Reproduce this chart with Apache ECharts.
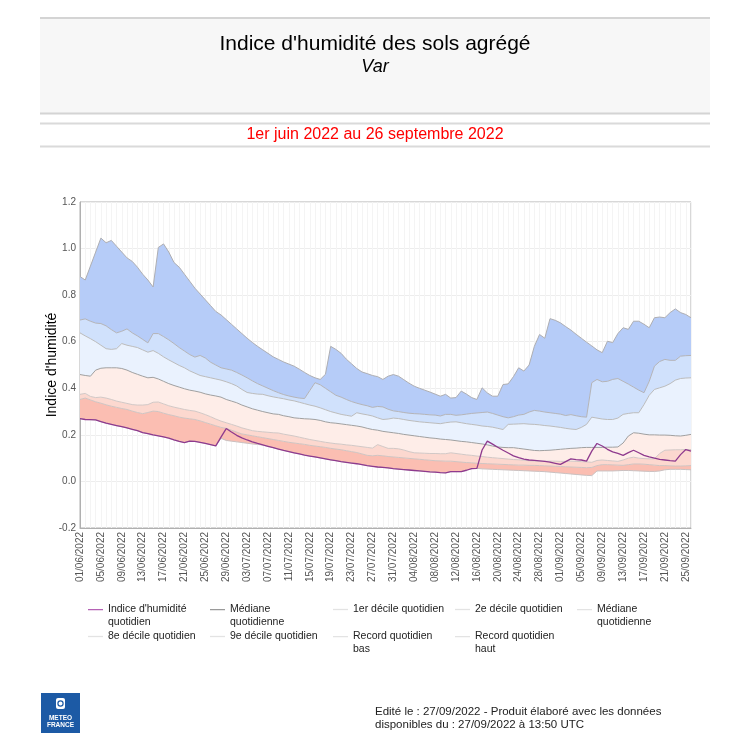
<!DOCTYPE html>
<html><head><meta charset="utf-8">
<script src="https://cdn.jsdelivr.net/npm/echarts/dist/echarts.min.js"></script>
<style>html,body{margin:0;padding:0;background:#fff}#c{width:750px;height:750px}</style>
</head><body><div id="c"></div>
<script>
const dates = [
"01/06/2022","02/06/2022","03/06/2022","04/06/2022","05/06/2022","06/06/2022","07/06/2022","08/06/2022","09/06/2022","10/06/2022",
"11/06/2022","12/06/2022","13/06/2022","14/06/2022","15/06/2022","16/06/2022","17/06/2022","18/06/2022","19/06/2022","20/06/2022",
"21/06/2022","22/06/2022","23/06/2022","24/06/2022","25/06/2022","26/06/2022","27/06/2022","28/06/2022","29/06/2022","30/06/2022",
"01/07/2022","02/07/2022","03/07/2022","04/07/2022","05/07/2022","06/07/2022","07/07/2022","08/07/2022","09/07/2022","10/07/2022",
"11/07/2022","12/07/2022","13/07/2022","14/07/2022","15/07/2022","16/07/2022","17/07/2022","18/07/2022","19/07/2022","20/07/2022",
"21/07/2022","22/07/2022","23/07/2022","24/07/2022","25/07/2022","26/07/2022","27/07/2022","28/07/2022","29/07/2022","30/07/2022",
"31/07/2022","01/08/2022","02/08/2022","03/08/2022","04/08/2022","05/08/2022","06/08/2022","07/08/2022","08/08/2022","09/08/2022",
"10/08/2022","11/08/2022","12/08/2022","13/08/2022","14/08/2022","15/08/2022","16/08/2022","17/08/2022","18/08/2022","19/08/2022",
"20/08/2022","21/08/2022","22/08/2022","23/08/2022","24/08/2022","25/08/2022","26/08/2022","27/08/2022","28/08/2022","29/08/2022",
"30/08/2022","31/08/2022","01/09/2022","02/09/2022","03/09/2022","04/09/2022","05/09/2022","06/09/2022","07/09/2022","08/09/2022",
"09/09/2022","10/09/2022","11/09/2022","12/09/2022","13/09/2022","14/09/2022","15/09/2022","16/09/2022","17/09/2022","18/09/2022",
"19/09/2022","20/09/2022","21/09/2022","22/09/2022","23/09/2022","24/09/2022","25/09/2022","26/09/2022"];

const indice = [
.270,.266,.265,.264,.257,.250,.245,.240,.235,.230,
.224,.218,.210,.205,.200,.196,.191,.186,.178,.172,
.167,.173,.172,.168,.163,.158,.153,.190,.227,.212,
.198,.187,.178,.170,.163,.157,.151,.145,.139,.133,
.128,.123,.118,.113,.109,.105,.101,.097,.093,.089,
.085,.082,.079,.076,.072,.068,.065,.062,.060,.058,
.055,.053,.051,.049,.047,.045,.043,.041,.040,.038,
.037,.042,.042,.042,.048,.055,.056,.135,.173,.160,
.147,.134,.122,.110,.102,.096,.092,.090,.088,.086,
.083,.078,.073,.085,.097,.094,.092,.087,.130,.163,
.152,.138,.127,.120,.112,.124,.134,.123,.112,.105,
.100,.095,.092,.089,.087,.115,.137,.130];

const recordBas = [
.270,.266,.265,.264,.257,.250,.245,.240,.235,.230,
.224,.218,.210,.205,.200,.196,.191,.186,.178,.172,
.167,.173,.172,.168,.163,.158,.153,.185,.176,.173,
.170,.167,.164,.161,.159,.156,.151,.145,.139,.133,
.128,.123,.118,.113,.109,.105,.101,.097,.093,.089,
.085,.082,.079,.076,.072,.068,.065,.062,.060,.058,
.055,.053,.051,.049,.047,.045,.043,.041,.040,.038,
.037,.042,.042,.042,.048,.055,.056,.054,.053,.052,
.051,.050,.049,.048,.047,.046,.045,.044,.043,.042,
.040,.038,.036,.034,.032,.030,.028,.026,.025,.045,
.045,.045,.045,.046,.047,.047,.046,.045,.044,.043,
.043,.045,.050,.052,.052,.052,.051,.050];

const decile1 = [
.352,.358,.350,.342,.336,.329,.323,.318,.313,.309,
.302,.296,.291,.296,.302,.300,.293,.287,.282,.276,
.272,.269,.266,.260,.253,.246,.239,.232,.228,.220,
.212,.204,.200,.196,.192,.188,.184,.180,.176,.172,
.168,.165,.162,.159,.155,.152,.149,.146,.142,.139,
.136,.132,.128,.124,.118,.112,.110,.112,.110,.107,
.105,.103,.101,.099,.097,.095,.093,.091,.089,.088,
.087,.087,.085,.083,.081,.080,.078,.077,.076,.075,
.074,.073,.072,.071,.070,.070,.069,.069,.068,.067,
.066,.065,.064,.063,.062,.061,.060,.059,.060,.068,
.072,.072,.071,.070,.069,.072,.075,.075,.074,.072,
.070,.068,.068,.067,.066,.066,.067,.068];

const decile2 = [
.374,.378,.365,.360,.362,.358,.352,.345,.340,.335,
.330,.328,.328,.330,.340,.341,.333,.325,.319,.314,
.309,.305,.302,.295,.287,.278,.268,.259,.252,.245,
.238,.230,.224,.218,.215,.213,.211,.209,.208,.203,
.199,.195,.190,.185,.180,.176,.172,.168,.165,.162,
.160,.157,.155,.152,.149,.146,.143,.158,.150,.142,
.142,.140,.135,.128,.123,.122,.121,.120,.120,.119,
.119,.123,.120,.117,.114,.112,.109,.107,.104,.102,
.100,.098,.096,.094,.093,.091,.089,.088,.087,.087,
.087,.087,.086,.086,.087,.086,.085,.084,.082,.090,
.092,.090,.088,.086,.092,.100,.104,.100,.098,.097,
.097,.120,.134,.135,.136,.136,.137,.137];

const mediane = [
.459,.455,.452,.478,.486,.488,.488,.488,.485,.478,
.468,.460,.452,.445,.447,.440,.430,.420,.412,.405,
.398,.392,.388,.383,.376,.371,.367,.362,.352,.345,
.338,.328,.320,.312,.306,.300,.295,.290,.288,.282,
.278,.273,.271,.269,.268,.266,.262,.256,.252,.250,
.247,.244,.241,.238,.234,.228,.223,.220,.215,.212,
.209,.206,.202,.199,.196,.193,.190,.187,.185,.182,
.180,.178,.175,.172,.170,.167,.164,.161,.157,.152,
.148,.146,.145,.145,.142,.139,.136,.133,.132,.133,
.134,.136,.138,.140,.142,.143,.145,.146,.146,.146,
.146,.147,.147,.148,.165,.195,.209,.207,.203,.200,
.200,.199,.199,.198,.196,.195,.198,.202];

const decile8 = [
.638,.625,.613,.600,.585,.570,.567,.570,.592,.585,
.580,.575,.565,.555,.562,.550,.535,.522,.510,.498,
.488,.475,.465,.455,.450,.445,.440,.435,.428,.420,
.410,.395,.382,.378,.375,.374,.368,.363,.359,.355,
.350,.346,.340,.334,.328,.323,.316,.308,.300,.294,
.288,.284,.280,.295,.290,.286,.281,.273,.266,.268,
.272,.270,.266,.262,.259,.256,.254,.252,.250,.248,
.252,.255,.256,.252,.248,.245,.242,.238,.236,.233,
.228,.223,.245,.246,.247,.248,.246,.245,.243,.240,
.238,.235,.232,.228,.225,.223,.232,.245,.276,.272,
.268,.266,.266,.272,.288,.292,.295,.295,.330,.370,
.395,.402,.409,.420,.435,.442,.444,.445];

const decile9 = [
.693,.698,.688,.680,.678,.668,.652,.638,.645,.655,
.638,.625,.610,.595,.635,.635,.622,.608,.592,.575,
.560,.545,.534,.541,.530,.512,.500,.488,.483,.478,
.468,.457,.445,.432,.420,.410,.400,.390,.381,.373,
.367,.362,.358,.356,.390,.424,.415,.400,.385,.370,
.362,.352,.343,.336,.330,.325,.318,.322,.320,.310,
.303,.300,.296,.293,.291,.290,.288,.286,.285,.281,
.288,.288,.284,.286,.289,.292,.294,.296,.298,.292,
.285,.278,.273,.278,.285,.288,.298,.305,.302,.298,
.295,.292,.289,.283,.287,.282,.278,.276,.424,.438,
.428,.430,.438,.442,.430,.418,.405,.392,.381,.430,
.495,.515,.524,.520,.520,.538,.540,.541];

const recordHaut = [
.880,.865,.925,.985,1.045,1.025,1.035,1.010,.985,.960,
.945,.920,.890,.865,.835,1.005,1.020,.985,.940,.920,
.890,.860,.830,.805,.780,.755,.730,.715,.695,.675,
.655,.635,.615,.597,.580,.565,.550,.535,.524,.513,
.504,.495,.482,.468,.455,.445,.438,.460,.580,.567,
.550,.525,.505,.485,.470,.463,.455,.450,.438,.452,
.459,.452,.437,.422,.409,.400,.392,.384,.375,.366,
.374,.358,.360,.388,.375,.360,.352,.402,.380,.366,
.366,.416,.419,.450,.488,.474,.500,.580,.631,.615,
.699,.692,.681,.665,.650,.632,.615,.598,.582,.565,
.553,.602,.596,.635,.660,.653,.688,.688,.675,.660,
.703,.706,.703,.725,.741,.725,.717,.703];

const yMin = -0.2, yMax = 1.2, yStep = 0.2;

const FONT = '"Liberation Sans", Arial, Helvetica, sans-serif';

const bands = [
  {name:'1er décile quotidien', top:decile1, bottom:recordBas, fill:'#fbbeb2'},
  {name:'2e décile quotidien', top:decile2, bottom:decile1, fill:'#fcd8cf'},
  {name:'Médiane quotidienne', top:mediane, bottom:decile2, fill:'#feede8'},
  {name:'8e décile quotidien', top:decile8, bottom:mediane, fill:'#eaf2fe'},
  {name:'9e décile quotidien', top:decile9, bottom:decile8, fill:'#d0e1fc'},
  {name:'Record quotidien haut', top:recordHaut, bottom:decile9, fill:'#b6ccf8'}
];
const lines = [
  {name:'Record quotidien bas', vals:recordBas, color:'#c9c0c0'},
  {name:'1er décile quotidien', vals:decile1, color:'#cfc4c2'},
  {name:'2e décile quotidien', vals:decile2, color:'#d2c8c6'},
  {name:'Médiane quotidienne', vals:mediane, color:'#a0a0a0'},
  {name:'8e décile quotidien', vals:decile8, color:'#bcbcbc'},
  {name:'9e décile quotidien', vals:decile9, color:'#b4b4b8'},
  {name:'Record quotidien haut', vals:recordHaut, color:'#aeaeb2'}
];

const series = [];
series.push({name:"Indice d'humidité quotidien", type:'line', data:indice, symbol:'none', z:5, silent:true,
  lineStyle:{color:'#8e3a8e', width:1.3}, itemStyle:{color:'#8e3a8e'}});
lines.forEach(l => series.push({name:l.name, type:'line', data:l.vals, symbol:'none', z:4, silent:true,
  lineStyle:{color:l.color, width:1}, itemStyle:{color:l.color}}));
series.push({name:'Médiane quotidienne ', type:'line', data:[], symbol:'none', lineStyle:{color:'#ddd'}});
series.push({name:'_base', type:'line', stack:'clim', data:recordBas, symbol:'none', z:2, silent:true,
  lineStyle:{width:0, opacity:0}});
bands.forEach(b => series.push({name:b.name, type:'line', stack:'clim', symbol:'none', z:2, silent:true,
  data:b.top.map((v,i)=>+(v-b.bottom[i]).toFixed(4)),
  lineStyle:{width:0, opacity:0}, itemStyle:{color:b.fill}, areaStyle:{color:b.fill, opacity:1}}));

const legendItems = [
  {name:"Indice d'humidité quotidien", label:"Indice d'humidité\nquotidien", color:'#b562b5', col:0, row:0},
  {name:'Médiane quotidienne', label:'Médiane\nquotidienne', color:'#9a9a9a', col:1, row:0},
  {name:'1er décile quotidien', label:'1er décile quotidien', color:'#e3e3e3', col:2, row:0},
  {name:'2e décile quotidien', label:'2e décile quotidien', color:'#e3e3e3', col:3, row:0},
  {name:'Médiane quotidienne ', label:'Médiane\nquotidienne', color:'#e3e3e3', col:4, row:0},
  {name:'8e décile quotidien', label:'8e décile quotidien', color:'#e3e3e3', col:0, row:1},
  {name:'9e décile quotidien', label:'9e décile quotidien', color:'#e3e3e3', col:1, row:1},
  {name:'Record quotidien bas', label:'Record quotidien\nbas', color:'#e3e3e3', col:2, row:1},
  {name:'Record quotidien haut', label:'Record quotidien\nhaut', color:'#e3e3e3', col:3, row:1}
];
const colX = [88, 210, 333, 455, 577], rowY = [603, 630];
const LH = 13;
const twoLineIcon = 'path://M0,6H15V7.3H0Z M0,0H0.01V0.01H0Z M14.99,25.99H15V26H14.99Z';

const legends = legendItems.map(it => {
  const two = it.label.indexOf('\n') >= 0;
  return {
    data:[{name:it.name, icon: two ? twoLineIcon : 'rect', itemStyle:{color:it.color, borderWidth:0}}],
    formatter: () => it.label,
    left:colX[it.col], top:rowY[it.row], padding:0, itemWidth:15, itemHeight: two ? 2*LH : 1.3,
    symbolKeepAspect:false, selectedMode:false,
    textStyle:{fontSize:10.5, color:'#222', fontFamily:FONT, lineHeight:LH}
  };
});

const chart = echarts.init(document.getElementById('c'), null, {renderer:'canvas'});
chart.setOption({
  animation:false,
  backgroundColor:'#fff',
  textStyle:{fontFamily:FONT},
  grid:{left:80, right:59, top:202, bottom:222, show:true, borderColor:'#b0b0b0', borderWidth:1},
  legend: legends,
  xAxis:{type:'category', data:dates, boundaryGap:false,
    axisLine:{onZero:false, lineStyle:{color:'#b0b0b0'}}, axisTick:{show:false},
    axisLabel:{interval:3, rotate:90, fontSize:10, color:'#555', fontFamily:FONT, margin:4},
    splitLine:{show:true, interval:0, lineStyle:{color:'#f4f4f4', width:1}}},
  yAxis:{type:'value', min:yMin, max:yMax, interval:yStep,
    name:"Indice d'humidité", nameLocation:'middle', nameGap:21, nameMoveOverlap:false,
    nameTextStyle:{fontSize:14, color:'#000', fontFamily:FONT},
    axisLine:{show:true, lineStyle:{color:'#b0b0b0'}}, axisTick:{show:false},
    axisLabel:{fontSize:10, color:'#555', fontFamily:FONT, margin:4, formatter:v=>v.toFixed(1)},
    splitLine:{lineStyle:{color:'#ededed'}}},
  series: series,
  graphic:[
    {type:'rect', shape:{x:40, y:18, width:670, height:95}, style:{fill:'#f7f7f7'}, silent:true},
    {type:'line', shape:{x1:40, y1:18, x2:710, y2:18}, style:{stroke:'#d4d4d4', lineWidth:2}, silent:true},
    {type:'line', shape:{x1:40, y1:113.5, x2:710, y2:113.5}, style:{stroke:'#d4d4d4', lineWidth:2}, silent:true},
    {type:'line', shape:{x1:40, y1:123.5, x2:710, y2:123.5}, style:{stroke:'#dadada', lineWidth:2}, silent:true},
    {type:'line', shape:{x1:40, y1:146.5, x2:710, y2:146.5}, style:{stroke:'#dadada', lineWidth:2}, silent:true},
    {type:'text', x:375, y:44, silent:true, style:{text:"Indice d'humidité des sols agrégé", align:'center', verticalAlign:'middle', fontSize:21, fill:'#000', fontFamily:FONT}},
    {type:'text', x:375, y:67, silent:true, style:{text:'Var', align:'center', verticalAlign:'middle', fontSize:18, fontStyle:'italic', fill:'#000', fontFamily:FONT}},
    {type:'text', x:375, y:134.5, silent:true, style:{text:'1er juin 2022 au 26 septembre 2022', align:'center', verticalAlign:'middle', fontSize:16, fill:'#ff0000', fontFamily:FONT}},
    {type:'rect', shape:{x:41, y:693, width:39, height:40}, style:{fill:'#1c5aa5'}, silent:true},
    {type:'rect', shape:{x:56, y:698, width:9, height:11, r:2}, style:{fill:'#fff'}, silent:true},
    {type:'circle', shape:{cx:60.5, cy:703.5, r:2.6}, style:{fill:'none', stroke:'#1c5aa5', lineWidth:1.2}, silent:true},
    {type:'text', x:60.5, y:718, silent:true, style:{text:'METEO', align:'center', verticalAlign:'middle', fontSize:6.5, fontWeight:'bold', fill:'#fff', fontFamily:FONT}},
    {type:'text', x:60.5, y:725, silent:true, style:{text:'FRANCE', align:'center', verticalAlign:'middle', fontSize:6.5, fontWeight:'bold', fill:'#fff', fontFamily:FONT}},
    {type:'text', x:375, y:705, silent:true, style:{text:'Edité le : 27/09/2022 - Produit élaboré avec les données\ndisponibles du : 27/09/2022 à 13:50 UTC', align:'left', verticalAlign:'top', fontSize:11.5, lineHeight:13.5, fill:'#222', fontFamily:FONT}}
  ]
});
</script></body></html>
